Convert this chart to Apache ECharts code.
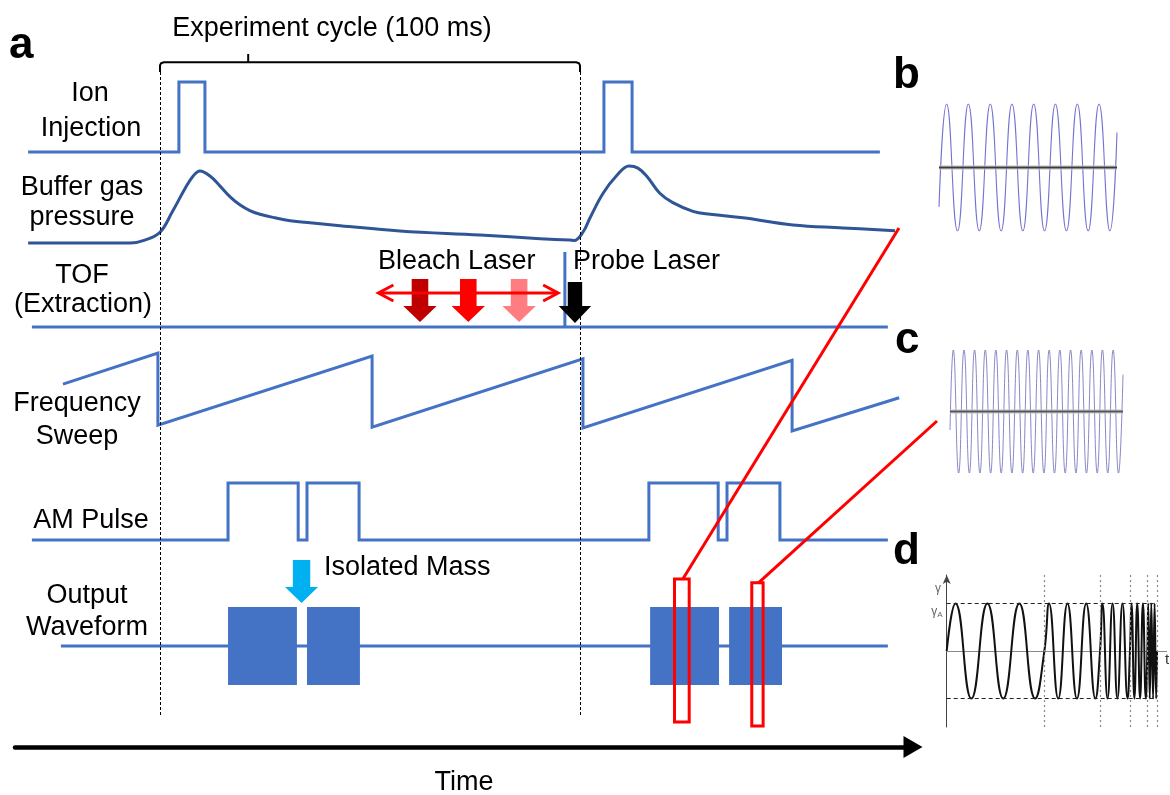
<!DOCTYPE html>
<html>
<head>
<meta charset="utf-8">
<script src="https://cdn.jsdelivr.net/npm/echarts@6/dist/echarts.min.js"></script>
<style>
  html, body { margin: 0; padding: 0; background: #fff; }
  #chart { width: 1170px; height: 795px; }
</style>
</head>
<body>
<div id="chart"></div>
<script>
// ---- Timing data: time in ms (one experiment cycle = 100 ms), levels normalised per lane ----
const cycle = [0, 100];
const bracketTick = 21;

const ionInjection = [[-31.4,0],[4.5,0],[4.5,1],[10.7,1],[10.7,0],[105.7,0],[105.7,1],[112.4,1],[112.4,0],[171.4,0]];

const bufferGas = [[-31.4,0],[-7.1,0],[-3.6,0.04],[0,0.15],[2.9,0.43],[6.0,0.76],[7.9,0.93],[9.5,1],[11.9,0.93],
  [14.3,0.79],[16.7,0.64],[19.0,0.53],[21.4,0.45],[23.8,0.40],[27.4,0.35],[31.0,0.31],[35.7,0.28],[42.9,0.24],
  [57.1,0.167],[76.2,0.11],[90.5,0.06],[97.6,0.04],
  [98.6,0.035],[100.7,0.15],[102.4,0.35],[105.5,0.69],[108.8,0.94],[111.7,1.07],[113.8,1.04],[116.0,0.92],[119.0,0.69],
  [122.1,0.56],[126.9,0.44],[131.0,0.40],[138.8,0.35],[150.7,0.25],[162.6,0.21],[175.0,0.17]];

const tofExtraction = [[-30.5,0],[96.4,0],[96.4,1],[96.4,0],[173.3,0]];

const frequencySweep = [[-23.1,0.61],[-0.5,1.04],[-0.5,0.04],[50.5,1.0],[50.5,0.01],[100.7,0.96],[100.7,0],
  [150.5,0.94],[150.5,-0.04],[176.0,0.42]];

const amPulse = [[-30.5,0],[16.2,0],[16.2,1],[32.9,1],[32.9,0],[35.0,0],[35.0,1],[47.4,1],[47.4,0],
  [116.4,0],[116.4,1],[132.9,1],[132.9,0],[135.0,0],[135.0,1],[147.6,1],[147.6,0],[173.3,0]];

const outputBaseline = [[-23.6,0],[173.3,0]];
const outputBursts = [[16.2,32.6],[35.0,47.6],[116.7,133.1],[135.5,148.1]];
// zoomed windows: [t start, t end, low level, high level] on the output lane
const zoomWindows = [[122.5,126.0,-1.95,1.72],[140.9,143.6,-2.05,1.62]];

const bleachPulses = [61.9, 73.4, 85.5];
const bleachRange = [52.0, 94.8];
const probePulse = [98.8];
const isolatedMass = [33.7];

// ---- Inset waveforms (arbitrary time units 0..100), extrema of the traces ----
const waveB = [[0,-0.62],[4.3,1],[10.4,-1],[16.5,1],[22.6,-1],[28.8,1],[34.9,-1],[41.0,1],[47.1,-1],[53.2,1],
  [59.3,-1],[65.4,1],[71.6,-1],[77.7,1],[83.8,-1],[89.9,1],[96.0,-1],[100,0.55]];

const waveC = [[0,-0.3],[1.9,1],[5.0,-1],[8.1,1],[11.2,-1],[14.2,1],[17.3,-1],[20.4,1],[23.5,-1],[26.5,1],[29.6,-1],
  [32.7,1],[35.8,-1],[38.9,1],[42.0,-1],[45.0,1],[48.1,-1],[51.2,1],[54.3,-1],[57.3,1],[60.4,-1],[63.5,1],[66.6,-1],
  [69.7,1],[72.8,-1],[75.8,1],[78.9,-1],[82.0,1],[85.1,-1],[88.1,1],[91.2,-1],[94.3,1],[97.4,-1],[100,0.6]];

const chirpD = [[0,0],[4.0,1],[11.2,-1],[18.5,1],[25.7,-1],[33.0,1],[40.2,-1],[44.4,0],
  [46.5,1],[50.7,-1],[54.9,1],[59.2,-1],[63.4,1],[67.6,-1],[69.7,0],
  [70.8,1],[73.1,-1],[75.4,1],[77.6,-1],[79.9,1],[82.2,-1],[83.3,0],
  [84.0,1],[85.3,-1],[86.6,1],[87.9,-1],[89.2,1],[90.5,-1],[91.2,0],
  [91.6,1],[92.3,-1],[93.0,1],[93.8,-1],[94.5,1],[95.2,-1],[95.6,0]];
const chirpSteps = [44.4, 69.7, 83.3, 91.2, 95.6];
const chirpAmplitude = 1;

// ---- Layout (screen pixels) ----
const W = 1170, H = 795;
const X0 = 160, PX_MS = 4.2;             // screen x of t = 0, px per ms
const FONT = 'Liberation Sans, Arial, sans-serif';
const BLUE = '#4472C4', DARK_BLUE = '#2F5597';
const lanes = {
  ion:   { base: 152, h: 70 },
  gas:   { base: 243, h: 72 },
  tof:   { base: 327, h: 75 },
  sweep: { base: 428, h: 72 },
  am:    { base: 540, h: 57 },
  out:   { base: 646, h: 39 }
};
const laneTitles = [
  ['Ion', 90, 94], ['Injection', 91, 129], ['Buffer gas', 82, 188], ['pressure', 82, 218],
  ['TOF', 82, 276], ['(Extraction)', 83, 305], ['Frequency', 77, 404], ['Sweep', 77, 437],
  ['AM Pulse', 91, 521], ['Output', 87, 596], ['Waveform', 87, 628]
];
const zoomTargets = [[899, 228], [937, 421]];
const blockArrow = {
  bleach: { shaft: 8.3, head: 16.7, top: 279, neck: 306, tip: 322 },
  probe:  { shaft: 7.2, head: 16.2, top: 282, neck: 306, tip: 323 },
  mass:   { shaft: 8.7, head: 16.5, top: 560, neck: 587, tip: 603 }
};

const chart = echarts.init(document.getElementById('chart'), null, { renderer: 'canvas' });

const toLane = (pts, lane) => pts.map(([t, v]) => [t, lane.base - v * lane.h]);

function laneLine(data, lane, color, extra) {
  return Object.assign({
    type: 'line', xAxisIndex: 0, yAxisIndex: 0, data: toLane(data, lane),
    symbol: 'none', showSymbol: false, silent: true,
    lineStyle: { color: color, width: 3, cap: 'butt', join: 'miter' }, z: 2
  }, extra || {});
}

function downArrows(times, geom, colors, z) {
  return {
    type: 'custom', xAxisIndex: 0, yAxisIndex: 0, z: z || 4, silent: true,
    data: times.map(t => [t, 0]),
    renderItem: (params, api) => {
      const x = api.coord([api.value(0), 0])[0];
      const g = geom;
      return {
        type: 'polygon',
        shape: { points: [[x - g.shaft, g.top], [x + g.shaft, g.top], [x + g.shaft, g.neck], [x + g.head, g.neck],
          [x, g.tip], [x - g.head, g.neck], [x - g.shaft, g.neck]] },
        style: { fill: colors[params.dataIndex % colors.length] }
      };
    }
  };
}

const series = [
  laneLine(ionInjection, lanes.ion, BLUE, {
    markLine: {
      silent: true, symbol: 'none', label: { show: false },
      lineStyle: { color: '#000', width: 1, type: [3, 2] },
      data: cycle.map(t => [{ coord: [t, 72] }, { coord: [t, 715] }])
    }
  }),
  laneLine(bufferGas, lanes.gas, DARK_BLUE, { smooth: 0.4 }),
  laneLine(tofExtraction, lanes.tof, BLUE),
  laneLine(frequencySweep, lanes.sweep, BLUE),
  laneLine(amPulse, lanes.am, BLUE),
  laneLine(outputBaseline, lanes.out, BLUE),
  {
    type: 'custom', xAxisIndex: 0, yAxisIndex: 0, z: 3, silent: true,
    data: outputBursts,
    renderItem: (params, api) => {
      const p0 = api.coord([api.value(0), lanes.out.base - lanes.out.h]);
      const p1 = api.coord([api.value(1), lanes.out.base + lanes.out.h]);
      return { type: 'rect', shape: { x: p0[0], y: p0[1], width: p1[0] - p0[0], height: p1[1] - p0[1] },
        style: { fill: BLUE } };
    }
  },
  // cycle bracket
  {
    type: 'line', xAxisIndex: 0, yAxisIndex: 0, symbol: 'none', silent: true, z: 2,
    data: [[cycle[0], 72], [cycle[0], 65.5], [cycle[0] + 0.25, 63.2], [cycle[0] + 0.9, 62.3],
      [cycle[1] - 0.9, 62.3], [cycle[1] - 0.25, 63.2], [cycle[1], 65.5], [cycle[1], 72]],
    lineStyle: { color: '#000', width: 2 }
  },
  {
    type: 'line', xAxisIndex: 0, yAxisIndex: 0, symbol: 'none', silent: true, z: 2,
    data: [[bracketTick, 62.3], [bracketTick, 54]],
    lineStyle: { color: '#000', width: 2 }
  },
  downArrows(bleachPulses, blockArrow.bleach, ['#C00000', '#FF0000', '#FF7C80'], 4),
  {
    type: 'custom', xAxisIndex: 0, yAxisIndex: 0, z: 5, silent: true,
    data: [bleachRange],
    renderItem: (params, api) => {
      const a = api.coord([api.value(0), 293]);
      const b = api.coord([api.value(1), 293]);
      const st = { stroke: '#FF0000', lineWidth: 3, fill: null, lineJoin: 'miter' };
      return { type: 'group', children: [
        { type: 'line', shape: { x1: a[0] + 1, y1: a[1], x2: b[0] - 1, y2: b[1] }, style: st },
        { type: 'polyline', shape: { points: [[a[0] + 15, a[1] - 8], [a[0], a[1]], [a[0] + 15, a[1] + 8]] }, style: st },
        { type: 'polyline', shape: { points: [[b[0] - 15, b[1] - 8], [b[0], b[1]], [b[0] - 15, b[1] + 8]] }, style: st }
      ] };
    }
  },
  downArrows(probePulse, blockArrow.probe, ['#000000'], 4),
  downArrows(isolatedMass, blockArrow.mass, ['#00B0F0'], 4),
  {
    type: 'custom', xAxisIndex: 0, yAxisIndex: 0, z: 8, silent: true,
    data: zoomWindows,
    renderItem: (params, api) => {
      const lane = lanes.out;
      const p0 = api.coord([api.value(0), lane.base - api.value(3) * lane.h]);
      const p1 = api.coord([api.value(1), lane.base - api.value(2) * lane.h]);
      const tg = zoomTargets[params.dataIndex];
      const cx = (p0[0] + p1[0]) / 2 + 1;
      return { type: 'group', children: [
        { type: 'rect', shape: { x: p0[0], y: p0[1], width: p1[0] - p0[0], height: p1[1] - p0[1] },
          style: { stroke: '#FF0000', lineWidth: 3, fill: null } },
        { type: 'line', shape: { x1: cx, y1: p0[1], x2: tg[0], y2: tg[1] },
          style: { stroke: '#FF0000', lineWidth: 3 } }
      ] };
    }
  },
  // time axis grid needs a series to exist
  { type: 'line', xAxisIndex: 1, yAxisIndex: 1, data: [], silent: true },
  // inset b
  { type: 'line', xAxisIndex: 2, yAxisIndex: 2, data: waveB, smooth: 0.5, symbol: 'none', silent: true,
    lineStyle: { color: '#5a5ac8', width: 1.1, opacity: 0.85 }, z: 2 },
  { type: 'line', xAxisIndex: 2, yAxisIndex: 2, data: [[0, 0], [100, 0]], symbol: 'none', silent: true,
    lineStyle: { color: '#c8c8c8', width: 5, opacity: 0.6 }, z: 3 },
  { type: 'line', xAxisIndex: 2, yAxisIndex: 2, data: [[0, 0], [100, 0]], symbol: 'none', silent: true,
    lineStyle: { color: '#3c3c3c', width: 1.8 }, z: 4 },
  // inset c
  { type: 'line', xAxisIndex: 3, yAxisIndex: 3, data: waveC, smooth: 0.5, symbol: 'none', silent: true,
    lineStyle: { color: '#6a6ab8', width: 1, opacity: 0.8 }, z: 2 },
  { type: 'line', xAxisIndex: 3, yAxisIndex: 3, data: [[0, 0], [100, 0]], symbol: 'none', silent: true,
    lineStyle: { color: '#c8c8c8', width: 5, opacity: 0.6 }, z: 3 },
  { type: 'line', xAxisIndex: 3, yAxisIndex: 3, data: [[0, 0], [100, 0]], symbol: 'none', silent: true,
    lineStyle: { color: '#555', width: 1.8 }, z: 4 },
  // inset d
  { type: 'line', xAxisIndex: 4, yAxisIndex: 4, data: chirpD, smooth: 0.5, symbol: 'none', silent: true,
    lineStyle: { color: '#111', width: 2 }, z: 3,
    markLine: {
      silent: true, symbol: 'none', label: { show: false }, animation: false,
      data: [
        [{ coord: [0, chirpAmplitude] }, { coord: [chirpSteps[chirpSteps.length - 1], chirpAmplitude] }],
        [{ coord: [0, -chirpAmplitude] }, { coord: [chirpSteps[chirpSteps.length - 1], -chirpAmplitude] }]
      ].map(d => { d[0].lineStyle = { color: '#222', width: 1, type: [4, 3] }; return d; })
       .concat(chirpSteps.map(v => ({ xAxis: v, lineStyle: { color: '#888', width: 1.2, type: [2, 3] } })))
    }
  }
];

const hidden = { show: false };
function hiddenAxis(gridIndex, min, max, inverse) {
  return { type: 'value', gridIndex, min, max, inverse: !!inverse, show: false,
    splitLine: hidden, axisLine: hidden, axisTick: hidden, axisLabel: hidden };
}

const txt = (text, x, y, size, extra) => ({
  type: 'text', x, y, silent: true, z: 100,
  style: Object.assign({ text, fill: '#000', font: `${size}px ${FONT}`, align: 'center', verticalAlign: 'middle' }, extra || {})
});

const graphics = laneTitles.map(([s, x, y]) => txt(s, x, y, 27))
  .concat([
    txt(`Experiment cycle (${cycle[1] - cycle[0]} ms)`, 332, 29, 27),
    txt('Bleach Laser', 378, 262, 27, { align: 'left' }),
    txt('Probe Laser', 573, 262, 27, { align: 'left' }),
    txt('Isolated Mass', 324, 568, 27, { align: 'left' }),
    txt('a', 9, 46, 44, { align: 'left', font: `bold 44px ${FONT}` }),
    txt('b', 893, 76, 44, { align: 'left', font: `bold 44px ${FONT}` }),
    txt('c', 895, 341, 44, { align: 'left', font: `bold 44px ${FONT}` }),
    txt('d', 893, 552, 44, { align: 'left', font: `bold 44px ${FONT}` }),
    txt('γ', 938, 589, 12, { fill: '#666' }),
    { type: 'text', x: 937, y: 612, silent: true, z: 100,
      style: { text: '{g|γ}{s|A}', align: 'center', verticalAlign: 'middle',
        rich: { g: { fontSize: 12, fontFamily: FONT, fill: '#666' },
                s: { fontSize: 8, fontFamily: FONT, fill: '#666', padding: [6, 0, 0, 0] } } } },
    txt('t', 1165, 660, 15, { align: 'left', fill: '#333' })
  ]);

const option = {
  animation: false,
  backgroundColor: '#fff',
  grid: [
    { left: 0, top: 0, width: W, height: H, outerBoundsMode: 'none', containLabel: false },
    { left: 15, top: 700, width: 898, height: 47, outerBoundsMode: 'none', containLabel: false },
    { left: 939, top: 104, width: 178, height: 127, outerBoundsMode: 'none', containLabel: false },
    { left: 950, top: 350, width: 173, height: 123, outerBoundsMode: 'none', containLabel: false },
    { left: 946.7, top: 575, width: 220, height: 152, outerBoundsMode: 'none', containLabel: false }
  ],
  xAxis: [
    hiddenAxis(0, -X0 / PX_MS, (W - X0) / PX_MS),
    {
      type: 'value', gridIndex: 1, min: (15 - X0) / PX_MS, max: (913 - X0) / PX_MS,
      axisLine: { show: true, onZero: false, symbol: ['none', 'triangle'], symbolSize: [22, 19],
        lineStyle: { color: '#000', width: 4.5 } },
      axisTick: hidden, axisLabel: hidden, splitLine: hidden,
      name: 'Time', nameLocation: 'middle', nameGap: 22,
      nameTextStyle: { fontSize: 27, fontFamily: FONT, color: '#000' }
    },
    hiddenAxis(2, 0, 100),
    hiddenAxis(3, 0, 100),
    {
      type: 'value', gridIndex: 4, min: 0, max: 100,
      axisLine: { show: true, onZero: true, lineStyle: { color: '#8a8a8a', width: 1 } },
      axisTick: hidden, axisLabel: hidden, splitLine: hidden
    }
  ],
  yAxis: [
    hiddenAxis(0, 0, H, true),
    hiddenAxis(1, 0, 1),
    hiddenAxis(2, -1, 1),
    hiddenAxis(3, -1, 1),
    {
      type: 'value', gridIndex: 4, min: -1.6, max: 1.6,
      axisLine: { show: true, onZero: false, symbol: ['none', 'arrow'], symbolSize: [6, 9],
        lineStyle: { color: '#444', width: 1 } },
      axisTick: hidden, axisLabel: hidden, splitLine: hidden
    }
  ],
  series,
  graphic: graphics
};

chart.setOption(option);
</script>
</body>
</html>
